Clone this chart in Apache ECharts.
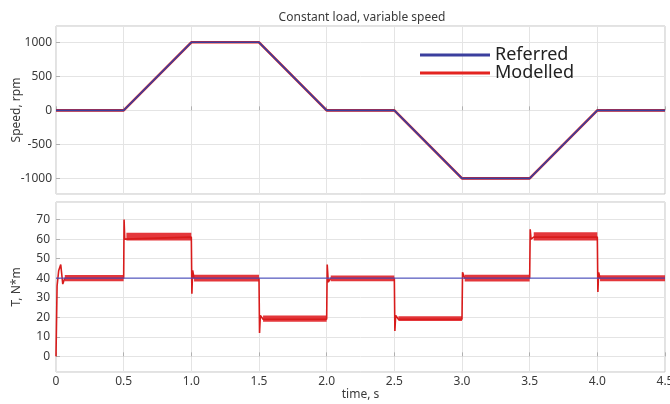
<!DOCTYPE html>
<html>
<head>
<meta charset="utf-8">
<script src="https://cdn.jsdelivr.net/npm/echarts@6/dist/echarts.min.js"></script>
<style>html,body{margin:0;padding:0;background:#fff}#c{width:670px;height:404px}</style>
</head>
<body>
<div id="c"></div>
<script>
// ---- data ----
const chartTitle = 'Constant load, variable speed';
const timeTicks = [0, 0.5, 1.0, 1.5, 2.0, 2.5, 3.0, 3.5, 4.0, 4.5];

const speedTime = [0, 0.5, 1.0, 1.5, 2.0, 2.5, 3.0, 3.5, 4.0, 4.5];
const speedReferred = [0, 0, 1000, 1000, 0, 0, -1000, -1000, 0, 0];
const speedModelled = [0, 0, 1000, 1000, 0, 0, -1000, -1000, 0, 0];

const torqueRefTime = [0, 4.5];
const torqueReferred = [40, 40];

const torqueModTime = [0, 0.008, 0.02, 0.035, 0.05, 0.065, 0.5, 0.503, 0.508, 0.52, 1.0, 1.004, 1.01, 1.02, 1.5, 1.504, 1.51, 1.53, 2.0, 2.004, 2.012, 2.03, 2.5, 2.504, 2.51, 2.53, 3.0, 3.004, 3.02, 3.5, 3.504, 3.51, 3.53, 4.0, 4.004, 4.01, 4.02, 4.5];
const torqueModelled = [0, 36, 44, 47, 37, 40, 40, 70, 60, 61, 61, 32, 44, 40, 40, 12, 21, 19, 19, 47, 38, 40, 40, 13, 21, 19, 19, 43, 40, 40, 65, 60, 61, 61, 33, 43, 40, 40];

// ripple envelope of the modelled torque on each plateau
const rippleStart = [0.065, 0.52, 1.02, 1.53, 2.03, 2.53, 3.02, 3.53, 4.02];
const rippleEnd   = [0.5, 1.0, 1.5, 2.0, 2.5, 3.0, 3.5, 4.0, 4.5];
const rippleLow   = [38.4, 59.3, 38.3, 17.7, 38.5, 18.1, 38.3, 59.3, 38.5];
const rippleHigh  = [41.6, 63.3, 41.8, 20.9, 41.4, 20.5, 41.8, 63.5, 41.5];

// ---- chart ----
const zip = (a, b) => a.map((x, i) => [x, b[i]]);
const FONT = "'Liberation Sans Narrow', 'Noto Sans', sans-serif";
const txt = '#3a3a3a';
const BLUE = '#3b3f9e';
const RED = '#e3231f';

const xAxisCommon = {
  type: 'value', min: 0, max: 4.5, interval: 0.5,
  axisLine: { show: false },
  axisTick: { show: true, inside: true, length: 4, lineStyle: { color: '#b0b0b0' } },
  splitLine: { show: true, lineStyle: { color: '#e4e4e4', width: 1 } }
};

const gridCommon = { left: 56, right: 5, show: true, borderColor: '#c4c4c4', borderWidth: 1, backgroundColor: '#fff', containLabel: false, outerBoundsMode: 'none' };

const option = {
  backgroundColor: '#fff',
  animation: false,
  title: {
    text: chartTitle, left: 357, top: 7, textAlign: 'center',
    textStyle: { fontFamily: FONT, fontSize: 12, fontWeight: 'normal', color: txt }
  },
  legend: {
    data: ['Referred', 'Modelled'],
    orient: 'vertical', left: 415, top: 41,
    icon: 'rect', itemWidth: 70, itemHeight: 3, itemGap: 0,
    textStyle: { fontFamily: "'Noto Sans', sans-serif", fontSize: 18, color: '#222', padding: [6, 0, 0, 0] }
  },
  grid: [
    Object.assign({}, gridCommon, { top: 26, bottom: 210 }),
    Object.assign({}, gridCommon, { top: 202, bottom: 32 })
  ],
  xAxis: [
    Object.assign({}, xAxisCommon, { gridIndex: 0, axisLabel: { show: false } }),
    Object.assign({}, xAxisCommon, {
      gridIndex: 1,
      name: 'time, s', nameLocation: 'middle', nameGap: 17, nameMoveOverlap: false,
      nameTextStyle: { fontFamily: FONT, fontSize: 12, color: txt },
      axisLabel: {
        fontFamily: FONT, fontSize: 12, color: txt, margin: 4,
        formatter: v => (timeTicks.indexOf(v) < 0 ? '' : (v === 0 ? '0' : v.toFixed(1)))
      }
    })
  ],
  yAxis: [
    {
      type: 'value', gridIndex: 0, min: -1230, max: 1240, splitNumber: 5,
      name: 'Speed, rpm', nameLocation: 'middle', nameGap: 33, nameRotate: 90, nameMoveOverlap: false,
      nameTextStyle: { fontFamily: FONT, fontSize: 12, color: txt },
      axisLine: { show: false },
      axisTick: { show: true, inside: true, length: 4, lineStyle: { color: '#b0b0b0' } },
      axisLabel: {
        fontFamily: FONT, fontSize: 12, color: txt, margin: 4, showMinLabel: false, showMaxLabel: false,
        formatter: v => (v % 500 === 0 ? String(v) : '')
      },
      splitLine: { show: true, lineStyle: { color: '#e4e4e4' } }
    },
    {
      type: 'value', gridIndex: 1, min: -8, max: 79, splitNumber: 8,
      name: 'T, N*m', nameLocation: 'middle', nameGap: 33, nameRotate: 90, nameMoveOverlap: false,
      nameTextStyle: { fontFamily: FONT, fontSize: 12, color: txt },
      axisLine: { show: false },
      axisTick: { show: true, inside: true, length: 4, lineStyle: { color: '#b0b0b0' } },
      axisLabel: {
        fontFamily: FONT, fontSize: 12, color: txt, margin: 6, showMinLabel: false, showMaxLabel: false,
        formatter: v => (v % 10 === 0 ? String(v) : '')
      },
      splitLine: { show: true, lineStyle: { color: '#e4e4e4' } }
    }
  ],
  series: [
    {
      name: 'Modelled', type: 'line', xAxisIndex: 0, yAxisIndex: 0,
      data: zip(speedTime, speedModelled), showSymbol: false, symbol: 'none',
      lineStyle: { color: RED, width: 2.6 }, itemStyle: { color: RED }, z: 3
    },
    {
      name: 'Referred', type: 'line', xAxisIndex: 0, yAxisIndex: 0,
      data: zip(speedTime, speedReferred), showSymbol: false, symbol: 'none',
      lineStyle: { color: BLUE, width: 1.6 }, itemStyle: { color: BLUE }, z: 4
    },
    {
      name: 'Modelled', type: 'custom', xAxisIndex: 1, yAxisIndex: 1,
      data: rippleStart.map((s, i) => [s, rippleEnd[i], rippleLow[i], rippleHigh[i]]),
      encode: { x: [0, 1], y: [2, 3] },
      renderItem: (params, api) => {
        const p0 = api.coord([api.value(0), api.value(3)]);
        const p1 = api.coord([api.value(1), api.value(2)]);
        return {
          type: 'rect',
          shape: { x: p0[0], y: p0[1], width: p1[0] - p0[0], height: p1[1] - p0[1] },
          style: { fill: '#e2262a', opacity: 0.92 }
        };
      },
      itemStyle: { color: RED }, z: 3, silent: true
    },
    {
      name: 'Modelled', type: 'line', xAxisIndex: 1, yAxisIndex: 1,
      data: zip(torqueModTime, torqueModelled), showSymbol: false, symbol: 'none',
      lineStyle: { color: '#d81c1c', width: 1.6 }, itemStyle: { color: RED }, z: 4
    },
    {
      name: 'Referred', type: 'line', xAxisIndex: 1, yAxisIndex: 1,
      data: zip(torqueRefTime, torqueReferred), showSymbol: false, symbol: 'none',
      lineStyle: { color: '#4a4fc0', width: 1.2, opacity: 0.9 }, itemStyle: { color: BLUE }, z: 5
    }
  ]
};

const chart = echarts.init(document.getElementById('c'), null, { renderer: 'canvas' });
chart.setOption(option);
</script>
</body>
</html>
